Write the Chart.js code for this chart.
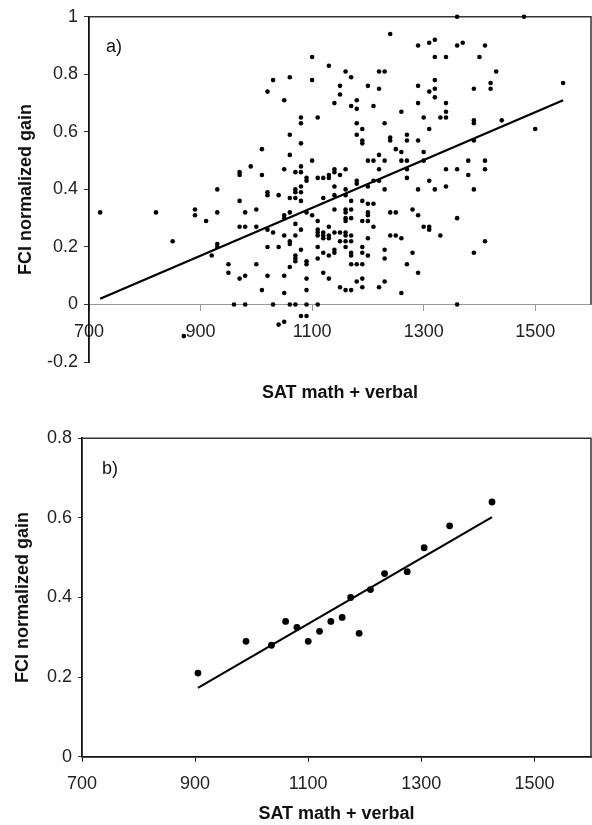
<!DOCTYPE html>
<html>
<head>
<meta charset="utf-8">
<script src="https://cdn.jsdelivr.net/npm/chart.js@4.4.1/dist/chart.umd.min.js"></script>
<style>
  html, body { margin: 0; padding: 0; background: #fff; }
  #wrap { position: relative; width: 592px; height: 825px; }
  canvas { position: absolute; left: 0; }
  #chartA { top: 0; }
  #chartB { top: 410px; }
</style>
</head>
<body>
<div id="wrap">
  <canvas id="chartA" width="592" height="410"></canvas>
  <canvas id="chartB" width="592" height="415"></canvas>
</div>
<script>
// panel a) - individual students
const satA = [
  720, 820, 850, 870, 890, 890, 910, 920, 930, 930, 930, 930, 950, 950, 960, 970, 970, 970, 970, 970, 980, 980, 980, 980, 990,
  1240, 1290, 1100, 1130, 1160, 1170, 1220, 1230, 1030, 1060, 1100, 1020, 1150, 1200, 1220, 1290,
  1150, 1050, 1140, 1180, 1170, 1180, 1210, 1290, 1080, 1110, 1080, 1180, 1230, 1260, 1190, 1060,
  1180, 1190, 1190, 1240, 1240, 1270, 1270, 1290, 1080, 1010, 1250, 1260, 1060, 1220, 1200, 1210,
  1230, 1260, 1270, 1100, 1080, 1050, 1070, 1080, 1140, 1140, 1160, 1130, 1150, 1270, 1010, 1220,
  1360, 1480, 1310, 1320, 1360, 1370, 1410, 1320, 1340, 1400, 1430, 1320, 1310, 1320, 1390, 1420,
  1420, 1320, 1550, 1340, 1340, 1300, 1330, 1340, 1390, 1390, 1440, 1310, 1500, 1390, 1300, 1300,
  1380, 1410, 1340, 1360, 1410, 1380, 1310, 1320, 1340, 1390, 1360, 1300, 1310, 1310, 1330, 1410, 1390, 1360,
  1090, 1090, 1110, 1120, 1130, 1180, 1180, 1210, 1220, 1270,
  1020, 1020, 1040, 1070, 1070, 1080, 1080, 1140, 1160, 1200, 1230, 1290,
  1060, 1070, 1080, 1120, 1140, 1160, 1170, 1190, 1200, 1210,
  1000, 1060, 1050, 1050, 1090, 1140, 1160, 1160, 1170, 1170, 1200, 1200, 1240, 1250, 1280, 1290, 1100,
  1000, 1020, 1070, 1080, 1110, 1110, 1160, 1160, 1190, 1200, 1210,
  1030, 1050, 1060, 1060, 1070, 1110, 1110, 1120, 1120, 1120, 1130, 1130, 1140, 1150, 1160, 1160, 1170, 1150, 1160, 1170, 1130, 1200, 1240, 1250, 1260,
  1020, 1040, 1080, 1110, 1120, 1130, 1140, 1140, 1160, 1170, 1170, 1190, 1190, 1200, 1230, 1230, 1280, 1070, 1070, 1110,
  1000, 1060, 1070, 1090, 1090, 1170, 1180, 1190, 1270, 1290, 1020, 1050, 1120, 1130, 1190, 1180, 1230, 1220,
  1090, 1010, 1050, 1090, 1150, 1160, 1170, 1190, 1260,
  1030, 1060, 1070, 1090, 1110, 1080, 1090, 1050, 1040
];
const gainA = [
  0.32, 0.32, 0.22, -0.11, 0.33, 0.31, 0.29, 0.17, 0.40, 0.32, 0.21, 0.20, 0.14, 0.11, 0.00, 0.36, 0.27, 0.09, 0.46, 0.45, 0.32, 0.27, 0.10, 0.00, 0.48,
  0.94, 0.90, 0.86, 0.83, 0.81, 0.79, 0.81, 0.81, 0.78, 0.79, 0.78, 0.74, 0.76, 0.76, 0.75, 0.76,
  0.73, 0.71, 0.70, 0.71, 0.69, 0.68, 0.69, 0.70, 0.65, 0.65, 0.63, 0.63, 0.63, 0.67, 0.61, 0.59,
  0.59, 0.57, 0.56, 0.58, 0.57, 0.59, 0.57, 0.57, 0.56, 0.54, 0.54, 0.53, 0.52, 0.52, 0.50, 0.50,
  0.50, 0.50, 0.50, 0.50, 0.48, 0.47, 0.46, 0.46, 0.47, 0.46, 0.47, 0.45, 0.45, 0.47, 0.45, 0.47,
  1.00, 1.00, 0.91, 0.92, 0.90, 0.91, 0.90, 0.86, 0.86, 0.86, 0.81, 0.78, 0.74, 0.75, 0.75, 0.77,
  0.75, 0.72, 0.77, 0.70, 0.67, 0.65, 0.65, 0.65, 0.64, 0.63, 0.64, 0.61, 0.61, 0.57, 0.53, 0.50,
  0.50, 0.50, 0.47, 0.47, 0.47, 0.45, 0.43, 0.40, 0.41, 0.40, 0.30, 0.27, 0.27, 0.26, 0.24, 0.22, 0.18, 0.00,
  0.44, 0.43, 0.44, 0.44, 0.44, 0.43, 0.42, 0.43, 0.43, 0.44,
  0.39, 0.38, 0.38, 0.40, 0.39, 0.41, 0.39, 0.41, 0.40, 0.41, 0.40, 0.40,
  0.37, 0.37, 0.36, 0.37, 0.38, 0.38, 0.36, 0.36, 0.35, 0.35,
  0.33, 0.32, 0.31, 0.30, 0.32, 0.33, 0.33, 0.32, 0.33, 0.30, 0.32, 0.31, 0.32, 0.32, 0.33, 0.31, 0.31,
  0.27, 0.26, 0.28, 0.26, 0.29, 0.26, 0.30, 0.29, 0.29, 0.29, 0.27,
  0.25, 0.24, 0.22, 0.21, 0.24, 0.25, 0.24, 0.25, 0.24, 0.23, 0.27, 0.24, 0.25, 0.25, 0.25, 0.24, 0.24, 0.22, 0.22, 0.22, 0.23, 0.23, 0.24, 0.24, 0.23,
  0.20, 0.20, 0.19, 0.20, 0.18, 0.17, 0.19, 0.18, 0.20, 0.18, 0.17, 0.20, 0.18, 0.17, 0.19, 0.16, 0.18, 0.17, 0.16, 0.16,
  0.14, 0.13, 0.15, 0.15, 0.14, 0.14, 0.14, 0.14, 0.14, 0.11, 0.10, 0.10, 0.11, 0.09, 0.09, 0.08, 0.08, 0.06,
  0.09, 0.05, 0.04, 0.05, 0.06, 0.05, 0.05, 0.06, 0.04,
  0, 0, 0, 0, 0, -0.04, -0.04, -0.06, -0.07
];
const fitSatA = [720, 1550];
const fitGainA = [0.02, 0.71];

// panel b) - class averages
const satB = [905, 990, 1035, 1060, 1080, 1100, 1120, 1140, 1160, 1175, 1190, 1210, 1235, 1275, 1305, 1350, 1425];
const gainB = [0.21, 0.29, 0.28, 0.34, 0.325, 0.29, 0.315, 0.34, 0.35, 0.40, 0.31, 0.42, 0.46, 0.465, 0.525, 0.58, 0.64];
const fitSatB = [905, 1425];
const fitGainB = [0.173, 0.602];

const xTicks = [700, 900, 1100, 1300, 1500];
const yTicksA = [-0.2, 0, 0.2, 0.4, 0.6, 0.8, 1];
const yTicksB = [0, 0.2, 0.4, 0.6, 0.8];

const xTitle = 'SAT math + verbal';
const yTitle = 'FCI normalized gain';

Chart.defaults.font.family = '"Liberation Sans", Arial, sans-serif';
Chart.defaults.color = '#222';

const toPoints = (xs, ys) => xs.map((x, i) => ({ x: x, y: ys[i] }));
const fixTicks = list => scale => { scale.ticks = list.map(v => ({ value: v })); };

// top + right frame lines and the panel letter
const frame = {
  id: 'frame',
  beforeDatasetsDraw(chart, args, opts) {
    const { ctx, chartArea: a, scales } = chart;
    const y0 = scales.y.getPixelForValue(0);
    ctx.save();
    ctx.strokeStyle = '#333';
    ctx.lineWidth = 1.5;
    ctx.beginPath();
    ctx.moveTo(a.left, a.top);
    ctx.lineTo(a.right, a.top);
    ctx.lineTo(a.right, y0);
    ctx.stroke();
    ctx.fillStyle = '#111';
    ctx.font = '18px "Liberation Sans", Arial, sans-serif';
    ctx.textBaseline = 'alphabetic';
    ctx.fillText(opts.label, a.left + opts.dx, a.top + opts.dy);
    ctx.restore();
  }
};

function makeChart(id, cfg) {
  return new Chart(document.getElementById(id), {
    type: 'scatter',
    data: {
      datasets: [
        {
          data: toPoints(cfg.xs, cfg.ys),
          pointRadius: cfg.r,
          pointBackgroundColor: '#000',
          pointBorderWidth: 0,
          clip: 6
        },
        {
          type: 'line',
          data: toPoints(cfg.fitX, cfg.fitY),
          borderColor: '#000',
          borderWidth: cfg.lw,
          pointRadius: 0,
          fill: false,
          clip: 6
        }
      ]
    },
    options: {
      responsive: false,
      animation: false,
      layout: { padding: cfg.pad, autoPadding: false },
      plugins: {
        legend: { display: false },
        tooltip: { enabled: false },
        frame: cfg.frame
      },
      scales: {
        x: {
          type: 'linear',
          position: cfg.xPos,
          min: 700,
          max: 1600,
          afterBuildTicks: fixTicks(xTicks),
          afterFit: s => { s.height = cfg.xHeight; },
          grid: { drawOnChartArea: false, tickLength: cfg.xTickLen, color: cfg.xLine, tickWidth: 1 },
          border: { color: cfg.xLine, width: cfg.xLineW },
          ticks: { padding: cfg.xPad, color: '#222', font: { size: 18 }, maxRotation: 0, autoSkip: false, callback: v => String(v) },
          title: { display: true, text: xTitle, color: '#111', font: { size: 18, weight: 'bold' }, padding: 0 }
        },
        y: {
          type: 'linear',
          min: cfg.yMin,
          max: cfg.yMax,
          afterBuildTicks: fixTicks(cfg.yTicks),
          afterFit: s => { s.width = cfg.yWidth; },
          grid: { drawOnChartArea: false, tickLength: cfg.yTickLen, color: '#333' },
          border: { color: '#111', width: 1.8 },
          ticks: { padding: cfg.yPad, color: '#222', font: { size: 18 }, callback: v => String(v) },
          title: { display: true, text: yTitle, color: '#111', font: { size: 18, weight: 'bold' }, padding: { top: cfg.yTitlePad, bottom: 0 } }
        }
      }
    },
    plugins: [frame]
  });
}

makeChart('chartA', {
  xs: satA, ys: gainA, fitX: fitSatA, fitY: fitGainA,
  r: 2.3, lw: 2.3,
  pad: { top: 16, right: 1, bottom: 48, left: 0 },
  frame: { label: 'a)', dx: 17, dy: 35 },
  xPos: { y: 0 }, xHeight: 99.8, xTickLen: 6, xLine: '#9a9a9a', xLineW: 1, xPad: 11,
  yMin: -0.2, yMax: 1, yTicks: yTicksA, yWidth: 89, yTickLen: 5, yPad: 6, yTitlePad: 15
});

makeChart('chartB', {
  xs: satB, ys: gainB, fitX: fitSatB, fitY: fitGainB,
  r: 3.4, lw: 2.2,
  pad: { top: 28.3, right: 1, bottom: 0, left: 0 },
  frame: { label: 'b)', dx: 20, dy: 36 },
  xPos: 'bottom', xHeight: 68.3, xTickLen: 5, xLine: '#111', xLineW: 1.8, xPad: 12,
  yMin: 0, yMax: 0.8, yTicks: yTicksB, yWidth: 82, yTickLen: 4, yPad: 6, yTitlePad: 12
});
</script>
</body>
</html>
